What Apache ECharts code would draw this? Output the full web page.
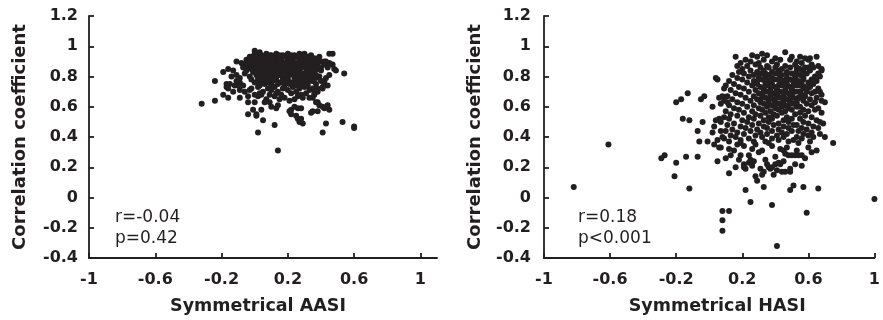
<!DOCTYPE html>
<html>
<head>
<meta charset="utf-8">
<script src="https://cdn.jsdelivr.net/npm/echarts@6/dist/echarts.min.js"></script>
<style>
  html, body { margin: 0; padding: 0; background: #fff; }
  #chart { width: 883px; height: 320px; }
</style>
</head>
<body>
<div id="chart"></div>
<script>
// tick labels
const xTicks = [-1, -0.6, -0.2, 0.2, 0.6, 1]
const yMin = -0.4
const yMax = 1.2

// left panel: symmetrical AASI vs correlation coefficient
const aasiPoints = [
  [-0.32, 0.62], [-0.24, 0.64], [-0.24, 0.77], [-0.19, 0.68], [-0.16, 0.66], [-0.17, 0.75], [-0.17, 0.73], [-0.19, 0.83], [-0.16, 0.85], [-0.13, 0.84],
  [-0.14, 0.80], [-0.11, 0.81], [-0.09, 0.79], [-0.11, 0.77], [-0.09, 0.76], [-0.07, 0.74], [-0.10, 0.74], [-0.13, 0.70], [-0.15, 0.75], [-0.12, 0.74], [-0.16, 0.72],
  [-0.11, 0.90], [-0.08, 0.89], [-0.07, 0.88], [-0.04, 0.91], [-0.02, 0.93], [0.00, 0.97], [0.03, 0.96],
  [-0.09, 0.66], [-0.04, 0.63], [0.00, 0.63], [-0.01, 0.58], [-0.04, 0.55], [0.01, 0.55], [0.01, 0.54], [0.05, 0.51], [0.02, 0.43], [0.12, 0.48], [0.14, 0.31],
  [-0.09, 0.71], [-0.06, 0.70], [-0.02, 0.72], [-0.04, 0.67], [0.00, 0.68], [0.02, 0.67], [0.04, 0.68], [0.07, 0.65], [0.09, 0.63],
  [0.04, 0.58], [0.06, 0.63], [0.10, 0.60], [0.14, 0.61], [0.13, 0.59], [0.21, 0.57], [0.22, 0.58], [0.22, 0.55], [0.25, 0.54], [0.26, 0.52], [0.27, 0.50], [0.29, 0.49],
  [0.24, 0.60], [0.26, 0.59], [0.28, 0.59], [0.28, 0.52], [0.35, 0.57], [0.34, 0.56], [0.38, 0.63], [0.39, 0.61], [0.41, 0.60], [0.44, 0.61], [0.42, 0.59], [0.38, 0.57], [0.45, 0.58],
  [0.37, 0.63], [0.33, 0.66], [0.35, 0.66], [0.36, 0.69], [0.38, 0.72], [0.41, 0.72], [0.42, 0.75], [0.44, 0.74], [0.37, 0.75], [0.40, 0.77], [0.42, 0.77], [0.43, 0.79], [0.45, 0.81],
  [0.40, 0.84], [0.44, 0.86], [0.45, 0.89], [0.47, 0.88], [0.48, 0.85], [0.49, 0.84], [0.46, 0.88], [0.43, 0.90], [0.45, 0.95], [0.47, 0.95],
  [0.54, 0.82], [0.53, 0.50], [0.60, 0.47], [0.60, 0.46], [0.41, 0.43], [0.43, 0.49],
  [0.00, 0.95], [0.04, 0.94], [0.07, 0.95], [0.10, 0.94], [0.13, 0.95], [0.17, 0.94], [0.20, 0.95], [0.24, 0.94], [0.27, 0.95], [0.30, 0.95],
  [-0.03, 0.93], [0.02, 0.92], [0.05, 0.93], [0.09, 0.92], [0.12, 0.93], [0.15, 0.92], [0.19, 0.93], [0.22, 0.92], [0.25, 0.93], [0.29, 0.92], [0.32, 0.93], [0.36, 0.92], [0.39, 0.93],
  [-0.05, 0.91], [-0.01, 0.90], [0.03, 0.91], [0.06, 0.90], [0.10, 0.91], [0.13, 0.90], [0.16, 0.91], [0.20, 0.90], [0.23, 0.91], [0.27, 0.90], [0.30, 0.91], [0.33, 0.90], [0.37, 0.91], [0.40, 0.90],
  [-0.06, 0.88], [-0.03, 0.89], [0.01, 0.88], [0.04, 0.89], [0.08, 0.88], [0.11, 0.89], [0.14, 0.88], [0.18, 0.89], [0.21, 0.88], [0.25, 0.89], [0.28, 0.88], [0.31, 0.89], [0.35, 0.88], [0.38, 0.89], [0.42, 0.88],
  [-0.07, 0.86], [-0.04, 0.87], [0.00, 0.86], [0.03, 0.87], [0.06, 0.86], [0.09, 0.87], [0.13, 0.86], [0.16, 0.87], [0.19, 0.86], [0.23, 0.87], [0.26, 0.86], [0.29, 0.87], [0.33, 0.86], [0.36, 0.87], [0.40, 0.86],
  [-0.05, 0.84], [-0.02, 0.85], [0.02, 0.84], [0.05, 0.85], [0.08, 0.84], [0.11, 0.85], [0.14, 0.84], [0.18, 0.85], [0.21, 0.84], [0.24, 0.85], [0.27, 0.84], [0.31, 0.85], [0.34, 0.84], [0.38, 0.85],
  [-0.06, 0.82], [-0.01, 0.83], [0.03, 0.82], [0.06, 0.83], [0.10, 0.82], [0.13, 0.83], [0.16, 0.82], [0.19, 0.83], [0.23, 0.82], [0.26, 0.83], [0.29, 0.82], [0.32, 0.83], [0.36, 0.82],
  [-0.03, 0.80], [0.01, 0.81], [0.04, 0.80], [0.08, 0.81], [0.11, 0.80], [0.15, 0.81], [0.18, 0.80], [0.21, 0.81], [0.25, 0.80], [0.28, 0.81], [0.31, 0.80], [0.35, 0.81], [0.39, 0.80],
  [-0.02, 0.78], [0.02, 0.79], [0.06, 0.78], [0.09, 0.79], [0.13, 0.78], [0.17, 0.79], [0.20, 0.78], [0.24, 0.79], [0.27, 0.78], [0.30, 0.79], [0.34, 0.78], [0.37, 0.79],
  [0.00, 0.76], [0.04, 0.77], [0.07, 0.76], [0.11, 0.77], [0.15, 0.76], [0.19, 0.77], [0.22, 0.76], [0.26, 0.77], [0.29, 0.76], [0.33, 0.77],
  [0.03, 0.74], [0.06, 0.75], [0.10, 0.74], [0.14, 0.75], [0.18, 0.74], [0.21, 0.75], [0.25, 0.74], [0.28, 0.75], [0.32, 0.74],
  [0.02, 0.73], [0.08, 0.72], [0.12, 0.73], [0.17, 0.72], [0.23, 0.73], [0.27, 0.72], [0.30, 0.73], [0.35, 0.72], [0.41, 0.73],
  [-0.03, 0.71], [0.05, 0.70], [0.10, 0.71], [0.14, 0.70], [0.20, 0.71], [0.25, 0.70], [0.33, 0.71], [0.38, 0.70],
  [0.03, 0.69], [0.09, 0.68], [0.13, 0.69], [0.16, 0.68], [0.22, 0.69], [0.28, 0.68], [0.31, 0.69], [0.36, 0.68],
  [0.12, 0.67], [0.18, 0.66], [0.26, 0.67], [0.29, 0.66], [0.15, 0.65], [0.21, 0.64], [0.24, 0.65],
  [0.02, 0.94], [0.09, 0.94], [0.15, 0.94], [0.22, 0.94], [0.28, 0.93], [0.34, 0.94],
  [-0.01, 0.92], [0.07, 0.92], [0.14, 0.92], [0.20, 0.92], [0.27, 0.92], [0.34, 0.92], [0.38, 0.91],
  [0.01, 0.90], [0.08, 0.90], [0.15, 0.90], [0.22, 0.90], [0.29, 0.90], [0.35, 0.90], [0.42, 0.90],
  [-0.01, 0.88], [0.06, 0.88], [0.12, 0.88], [0.19, 0.88], [0.23, 0.88], [0.30, 0.88], [0.37, 0.88],
  [0.02, 0.86], [0.08, 0.86], [0.15, 0.86], [0.21, 0.86], [0.28, 0.86], [0.35, 0.86], [0.38, 0.86],
  [0.00, 0.84], [0.07, 0.84], [0.13, 0.84], [0.20, 0.84], [0.26, 0.84], [0.33, 0.84], [0.36, 0.84],
  [0.01, 0.82], [0.08, 0.82], [0.15, 0.82], [0.21, 0.82], [0.28, 0.82], [0.34, 0.82],
  [0.06, 0.80], [0.13, 0.80], [0.20, 0.80], [0.27, 0.80], [0.33, 0.80],
  [0.04, 0.78], [0.11, 0.78], [0.19, 0.78], [0.26, 0.78], [0.32, 0.78],
  [0.09, 0.76], [0.17, 0.76], [0.24, 0.76], [0.31, 0.76],
  [0.00, 0.93], [0.11, 0.93], [0.18, 0.93], [0.26, 0.93], [0.31, 0.93],
  [0.02, 0.89], [0.10, 0.89], [0.16, 0.89], [0.27, 0.89], [0.33, 0.89],
  [0.04, 0.85], [0.10, 0.85], [0.17, 0.85], [0.25, 0.85], [0.32, 0.85],
  [0.03, 0.81], [0.09, 0.81], [0.17, 0.81], [0.24, 0.81], [0.30, 0.81], [0.37, 0.81],
  [0.02, 0.77], [0.09, 0.77], [0.17, 0.77], [0.24, 0.77], [0.31, 0.77], [0.35, 0.77]
]

// right panel: symmetrical HASI vs correlation coefficient
const hasiPoints = [
  [-0.82, 0.07], [-0.61, 0.35], [1.00, -0.01], [0.41, -0.32], [0.08, -0.22], [0.08, -0.15], [0.08, -0.09], [0.12, -0.09], [0.59, -0.10], [0.38, -0.05], [0.25, -0.03],
  [0.22, 0.05], [0.33, 0.07], [0.49, 0.05], [0.51, 0.08], [0.57, 0.07], [0.66, 0.06], [-0.12, 0.06], [-0.21, 0.14], [-0.20, 0.23], [-0.29, 0.26], [-0.27, 0.28],
  [-0.14, 0.27], [-0.07, 0.27], [0.05, 0.24], [0.12, 0.16], [0.16, 0.20], [0.21, 0.20], [-0.06, 0.37], [-0.01, 0.37], [-0.07, 0.44], [-0.04, 0.50], [-0.12, 0.51], [-0.16, 0.52],
  [-0.20, 0.63], [-0.17, 0.65], [-0.13, 0.69], [-0.05, 0.65], [-0.03, 0.67], [0.02, 0.60], [0.04, 0.79], [0.05, 0.78], [0.16, 0.93],
  [0.75, 0.36], [0.70, 0.40], [0.69, 0.49], [0.70, 0.63], [0.68, 0.68], [0.68, 0.85], [0.65, 0.93], [0.46, 0.96], [0.65, 0.31], [0.56, 0.21],
  [0.03, 0.35], [0.06, 0.33], [0.07, 0.33], [0.12, 0.32], [0.13, 0.28], [0.17, 0.35], [0.19, 0.36], [0.21, 0.34], [0.22, 0.19], [0.24, 0.28], [0.25, 0.25], [0.24, 0.23], [0.21, 0.22],
  [0.29, 0.11], [0.30, 0.30], [0.28, 0.35], [0.34, 0.37], [0.36, 0.36], [0.38, 0.34], [0.31, 0.19], [0.32, 0.15], [0.34, 0.25], [0.36, 0.20], [0.37, 0.19], [0.38, 0.20], [0.39, 0.15],
  [0.40, 0.22], [0.42, 0.23], [0.43, 0.22], [0.43, 0.32], [0.45, 0.31], [0.46, 0.29], [0.48, 0.28], [0.50, 0.28], [0.52, 0.28], [0.54, 0.28], [0.56, 0.28], [0.49, 0.19], [0.49, 0.17], [0.46, 0.17], [0.44, 0.17],
  [0.06, 0.52], [0.07, 0.50], [0.07, 0.44], [0.08, 0.40], [0.06, 0.66], [0.08, 0.67], [0.09, 0.72], [0.10, 0.74], [0.07, 0.62], [0.09, 0.64], [0.11, 0.63],
  [0.15, 0.31], [0.26, 0.32], [0.32, 0.31], [0.40, 0.27], [0.47, 0.33], [0.53, 0.31], [0.60, 0.33], [0.62, 0.30], [0.18, 0.25], [0.27, 0.24], [0.35, 0.22], [0.45, 0.24], [0.52, 0.22],
  [0.28, 0.14], [0.33, 0.17], [0.41, 0.18], [0.26, 0.21], [0.19, 0.28], [0.10, 0.26], [0.58, 0.26],
  [0.26, 0.94], [0.35, 0.94], [0.55, 0.93], [0.61, 0.92], [0.29, 0.93], [0.40, 0.92], [0.50, 0.93], [0.58, 0.92], [0.32, 0.95],
  [0.22, 0.91], [0.33, 0.91], [0.43, 0.91], [0.49, 0.91], [0.53, 0.90], [0.60, 0.91],
  [0.19, 0.89], [0.25, 0.90], [0.30, 0.89], [0.38, 0.90], [0.56, 0.89], [0.62, 0.88],
  [0.17, 0.87], [0.23, 0.87], [0.28, 0.88], [0.35, 0.87], [0.41, 0.88], [0.46, 0.87], [0.52, 0.88], [0.58, 0.86], [0.66, 0.87],
  [0.20, 0.85], [0.31, 0.86], [0.44, 0.85], [0.49, 0.86], [0.55, 0.85], [0.63, 0.86], [0.68, 0.84],
  [0.18, 0.83], [0.25, 0.84], [0.29, 0.83], [0.33, 0.84], [0.38, 0.83], [0.42, 0.84], [0.47, 0.83], [0.53, 0.84], [0.57, 0.83], [0.61, 0.84], [0.66, 0.82],
  [0.14, 0.81], [0.21, 0.82], [0.27, 0.81], [0.32, 0.82], [0.36, 0.81], [0.40, 0.82], [0.44, 0.81], [0.50, 0.82], [0.55, 0.81], [0.59, 0.82], [0.64, 0.80],
  [0.17, 0.79], [0.24, 0.80], [0.30, 0.79], [0.34, 0.80], [0.38, 0.79], [0.43, 0.80], [0.47, 0.79], [0.52, 0.80], [0.57, 0.79], [0.62, 0.78], [0.67, 0.80],
  [0.12, 0.77], [0.20, 0.78], [0.27, 0.77], [0.32, 0.78], [0.36, 0.77], [0.41, 0.78], [0.45, 0.77], [0.49, 0.78], [0.54, 0.77], [0.60, 0.76], [0.65, 0.77],
  [0.15, 0.75], [0.23, 0.76], [0.29, 0.75], [0.34, 0.76], [0.38, 0.75], [0.43, 0.76], [0.47, 0.75], [0.51, 0.76], [0.56, 0.75], [0.58, 0.73], [0.63, 0.75],
  [0.18, 0.73], [0.26, 0.74], [0.31, 0.73], [0.36, 0.74], [0.40, 0.73], [0.44, 0.74], [0.49, 0.73], [0.53, 0.74], [0.57, 0.72], [0.61, 0.73], [0.66, 0.72],
  [0.13, 0.71], [0.21, 0.72], [0.28, 0.71], [0.33, 0.72], [0.37, 0.71], [0.41, 0.72], [0.46, 0.71], [0.50, 0.72], [0.55, 0.70], [0.59, 0.71], [0.64, 0.70],
  [0.16, 0.69], [0.24, 0.70], [0.30, 0.69], [0.35, 0.70], [0.39, 0.69], [0.43, 0.70], [0.48, 0.69], [0.52, 0.70], [0.56, 0.68], [0.62, 0.69], [0.67, 0.70],
  [0.11, 0.67], [0.19, 0.68], [0.27, 0.67], [0.32, 0.68], [0.37, 0.67], [0.41, 0.68], [0.45, 0.67], [0.50, 0.68], [0.54, 0.66], [0.58, 0.67], [0.65, 0.66],
  [0.14, 0.65], [0.22, 0.66], [0.29, 0.65], [0.34, 0.66], [0.39, 0.65], [0.43, 0.66], [0.47, 0.65], [0.51, 0.66], [0.57, 0.64], [0.61, 0.65], [0.68, 0.64],
  [0.17, 0.63], [0.25, 0.64], [0.31, 0.63], [0.36, 0.64], [0.40, 0.63], [0.45, 0.64], [0.49, 0.63], [0.53, 0.64], [0.59, 0.62], [0.64, 0.63],
  [0.12, 0.61], [0.20, 0.62], [0.27, 0.61], [0.33, 0.62], [0.38, 0.61], [0.42, 0.62], [0.46, 0.61], [0.51, 0.62], [0.55, 0.60], [0.62, 0.61],
  [0.15, 0.59], [0.23, 0.60], [0.30, 0.59], [0.35, 0.60], [0.40, 0.59], [0.44, 0.60], [0.48, 0.59], [0.53, 0.60], [0.57, 0.58], [0.66, 0.59],
  [0.10, 0.57], [0.18, 0.58], [0.26, 0.57], [0.32, 0.58], [0.37, 0.57], [0.42, 0.58], [0.46, 0.57], [0.50, 0.58], [0.55, 0.56], [0.60, 0.57], [0.64, 0.58],
  [0.13, 0.55], [0.21, 0.56], [0.28, 0.55], [0.34, 0.56], [0.39, 0.55], [0.44, 0.56], [0.52, 0.55], [0.58, 0.54], [0.68, 0.56],
  [0.09, 0.53], [0.17, 0.54], [0.24, 0.53], [0.31, 0.54], [0.36, 0.53], [0.41, 0.54], [0.47, 0.53], [0.55, 0.52], [0.62, 0.53],
  [0.04, 0.51], [0.12, 0.52], [0.20, 0.51], [0.27, 0.52], [0.33, 0.51], [0.38, 0.52], [0.45, 0.51], [0.50, 0.52], [0.57, 0.50], [0.65, 0.51],
  [0.15, 0.49], [0.23, 0.50], [0.30, 0.49], [0.36, 0.50], [0.42, 0.49], [0.48, 0.50], [0.53, 0.48], [0.60, 0.49], [0.67, 0.50],
  [0.03, 0.47], [0.11, 0.48], [0.19, 0.47], [0.26, 0.48], [0.33, 0.47], [0.39, 0.48], [0.45, 0.47], [0.51, 0.48], [0.56, 0.46], [0.63, 0.47],
  [0.14, 0.45], [0.22, 0.46], [0.29, 0.45], [0.35, 0.46], [0.42, 0.45], [0.48, 0.46], [0.54, 0.44], [0.59, 0.45], [0.66, 0.46],
  [0.02, 0.43], [0.10, 0.44], [0.17, 0.43], [0.25, 0.44], [0.31, 0.43], [0.38, 0.44], [0.44, 0.43], [0.50, 0.44], [0.57, 0.42], [0.62, 0.43],
  [0.13, 0.41], [0.21, 0.42], [0.28, 0.41], [0.35, 0.42], [0.41, 0.41], [0.47, 0.42], [0.53, 0.40], [0.60, 0.41], [0.67, 0.42],
  [0.09, 0.39], [0.16, 0.40], [0.24, 0.39], [0.32, 0.40], [0.38, 0.39], [0.45, 0.40], [0.51, 0.38], [0.56, 0.39], [0.63, 0.40],
  [0.05, 0.38], [0.12, 0.37], [0.19, 0.38], [0.27, 0.37], [0.42, 0.38], [0.48, 0.37], [0.54, 0.36], [0.61, 0.37],
  [0.36, 0.86], [0.40, 0.86], [0.53, 0.86], [0.60, 0.86],
  [0.30, 0.82], [0.34, 0.82], [0.42, 0.82], [0.47, 0.82], [0.52, 0.82], [0.57, 0.82],
  [0.30, 0.78], [0.34, 0.78], [0.39, 0.78], [0.43, 0.78], [0.47, 0.78], [0.52, 0.78], [0.57, 0.78],
  [0.34, 0.74], [0.38, 0.74], [0.42, 0.74], [0.47, 0.74], [0.51, 0.74], [0.55, 0.74],
  [0.33, 0.70], [0.37, 0.70], [0.41, 0.70], [0.46, 0.70], [0.50, 0.70], [0.54, 0.70], [0.59, 0.70],
  [0.32, 0.66], [0.37, 0.66], [0.41, 0.66], [0.45, 0.66], [0.49, 0.66], [0.55, 0.66],
  [0.36, 0.62], [0.40, 0.62], [0.44, 0.62], [0.49, 0.62], [0.53, 0.62]
]

const leftStats = ['r=-0.04', 'p=0.42']
const rightStats = ['r=0.18', 'p<0.001']

const ink = '#231f20'
const font = 'DejaVu Sans, sans-serif'

const makeXAxis = (gridIndex, max, name, namePadding) => ({
  gridIndex: gridIndex,
  type: 'value',
  min: -1,
  max: max,
  name: name,
  nameLocation: 'middle',
  nameGap: 39,
  nameTextStyle: { color: ink, fontFamily: font, fontWeight: 'bold', fontSize: 17.5, padding: namePadding },
  axisLine: { show: true, onZero: false, lineStyle: { color: ink, width: 1.8 } },
  axisTick: { show: true, inside: true, length: 5, customValues: xTicks, lineStyle: { color: ink, width: 1.8 } },
  axisLabel: { customValues: xTicks, margin: 14, color: ink, fontFamily: font, fontWeight: 'bold', fontSize: 16 },
  splitLine: { show: false }
})

const makeYAxis = (gridIndex, labelMargin) => ({
  gridIndex: gridIndex,
  type: 'value',
  min: yMin,
  max: yMax,
  interval: 0.2,
  name: 'Correlation coefficient',
  nameLocation: 'middle',
  nameGap: 60,
  nameTextStyle: { color: ink, fontFamily: font, fontWeight: 'bold', fontSize: 18 },
  axisLine: { show: true, onZero: false, lineStyle: { color: ink, width: 1.8 } },
  axisTick: { show: true, inside: true, length: 5, lineStyle: { color: ink, width: 1.8 } },
  axisLabel: { margin: labelMargin, color: ink, fontFamily: font, fontWeight: 'bold', fontSize: 16 },
  splitLine: { show: false }
})

const statText = (x, y, text) => ({
  type: 'text',
  left: x,
  top: y,
  style: { text: text, fill: ink, font: '17px ' + font }
})

const chart = echarts.init(document.getElementById('chart'), null, { renderer: 'canvas' })
chart.setOption({
  animation: false,
  backgroundColor: '#fff',
  grid: [
    { left: 89, top: 16, width: 348, height: 244.7 },
    { left: 544, top: 16, width: 332, height: 244.7 }
  ],
  xAxis: [
    makeXAxis(0, 1.1, 'Symmetrical AASI', [0, 10, 0, 0]),
    makeXAxis(1, 1, 'Symmetrical HASI', [0, 0, 0, 16])
  ],
  yAxis: [makeYAxis(0, 11), makeYAxis(1, 13)],
  series: [
    {
      type: 'scatter',
      xAxisIndex: 0,
      yAxisIndex: 0,
      data: aasiPoints,
      symbolSize: 6,
      clip: false,
      silent: true,
      itemStyle: { color: ink, opacity: 1 }
    },
    {
      type: 'scatter',
      xAxisIndex: 1,
      yAxisIndex: 1,
      data: hasiPoints,
      symbolSize: 6,
      clip: false,
      silent: true,
      itemStyle: { color: ink, opacity: 1 }
    }
  ],
  graphic: [
    statText(115, 209, leftStats[0]),
    statText(115, 230, leftStats[1]),
    statText(578, 209, rightStats[0]),
    statText(578, 230, rightStats[1])
  ]
})
</script>
</body>
</html>
